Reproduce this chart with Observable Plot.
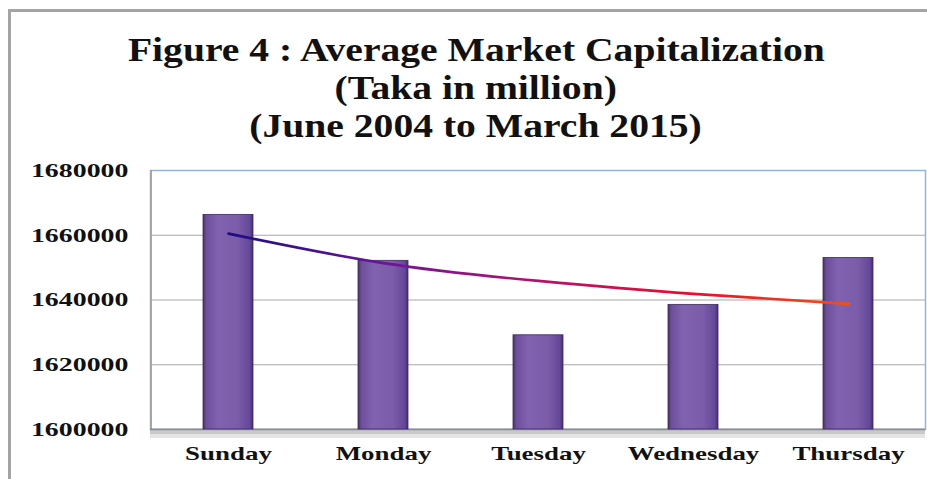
<!DOCTYPE html>
<html>
<head>
<meta charset="utf-8">
<script src="https://cdn.jsdelivr.net/npm/d3@7"></script>
<script src="https://cdn.jsdelivr.net/npm/@observablehq/plot@0.6"></script>
<style>
  html, body { margin: 0; padding: 0; background: #fff; }
  body { width: 927px; height: 479px; overflow: hidden; position: relative;
         font-family: "Liberation Serif", "Times New Roman", serif; }
  #border { position: absolute; left: 8px; top: 9px; width: 940px; height: 490px;
            border-left: 3px solid #a4a4a4; border-top: 3px solid #a4a4a4; }
  #title { position: absolute; left: 0; top: 31px; width: 952px; text-align: center;
           font-weight: bold; font-size: 33px; line-height: 38px; color: #111; }
  #title span { display: inline-block; white-space: nowrap; transform-origin: 50% 50%; }
  #chart { position: absolute; left: 0; top: 150px; }
</style>
</head>
<body>
<div id="border"></div>
<div id="title"></div>
<div id="chart"></div>
<script>
// ---- data ----
const days = ["Sunday", "Monday", "Tuesday", "Wednesday", "Thursday"];
const capitalization = [1666300, 1652100, 1629100, 1638500, 1653000];
const trendValues = [1660500, 1651400, 1645900, 1641900, 1638800];
const yTicks = [1600000, 1620000, 1640000, 1660000, 1680000];
const yDomain = [1600000, 1680000];
const titleLines = [
  "Figure 4 : Average Market Capitalization",
  "(Taka in million)",
  "(June 2004 to March 2015)"
];

const bars = days.map((d, i) => ({day: d, value: capitalization[i]}));
const trend = days.map((d, i) => ({day: d, value: trendValues[i]}));

// ---- title ----
const titleEl = document.getElementById("title");
titleLines.forEach(line => {
  const div = document.createElement("div");
  const span = document.createElement("span");
  span.textContent = line;
  span.style.transform = "scaleX(1.2)";
  div.appendChild(span);
  titleEl.appendChild(div);
});

// ---- chart ----
const chart = Plot.plot({
  width: 927,
  height: 329,
  marginTop: 20,
  marginBottom: 50,
  marginLeft: 150,
  marginRight: 2,
  style: {
    fontFamily: '"Liberation Serif", "Times New Roman", serif',
    fontSize: "19.5px",
    fontWeight: "bold",
    color: "#111",
    background: "transparent",
    overflow: "visible"
  },
  x: {domain: days, paddingInner: 0.68, paddingOuter: 0.34, label: null, tickSize: 0, tickPadding: 17},
  y: {domain: yDomain, ticks: yTicks, tickFormat: d3.format("d"), label: null, tickSize: 0, tickPadding: 22},
  marks: [
    Plot.ruleY([yDomain[0]], {stroke: "#e4e4e4", strokeWidth: 5, dy: 6}),
    Plot.ruleY([yDomain[0]], {stroke: "#c9c9c9", strokeWidth: 3, dy: 3}),
    Plot.ruleY(yTicks, {stroke: "#a8a8a8", strokeWidth: 1.2}),
    Plot.frame({stroke: "#95b3d7", strokeWidth: 1.5}),
    Plot.ruleX([days[0]], {stroke: "#a6a6a6", strokeWidth: 2, dx: -77.5, y1: yDomain[0], y2: yDomain[1]}),
    Plot.ruleY([yDomain[0]], {stroke: "#8c8c8c", strokeWidth: 2}),
    Plot.barY(bars, {x: "day", y1: () => yDomain[0], y2: "value", fill: "url(#barGrad)", stroke: "#3e2a5e", strokeWidth: 0.8}),
    Plot.tickY(bars, {x: "day", y: "value", stroke: "url(#bevelGrad)", strokeWidth: 7, dy: 4.5, inset: 3}),
    Plot.line(trend, {x: "day", y: "value", curve: "natural", stroke: "url(#trendGrad)", strokeWidth: 2.6})
  ]
});

// gradients
const svg = d3.select(chart);
const defs = svg.insert("defs", ":first-child");
function grad(id, stops, vertical) {
  const g = defs.append("linearGradient").attr("id", id)
    .attr("x1", 0).attr("y1", 0).attr("x2", vertical ? 0 : 1).attr("y2", vertical ? 1 : 0);
  stops.forEach(([o, c]) => g.append("stop").attr("offset", o).attr("stop-color", c));
}
grad("barGrad", [[0, "#4a3170"], [0.07, "#6e4f9c"], [0.3, "#8062b0"], [0.7, "#7a5ca9"], [0.93, "#66489a"], [1, "#45306a"]]);
grad("bevelGrad", [[0, "#8d70bd"], [0.2, "#b9a3e0"], [0.8, "#b9a3e0"], [1, "#8d70bd"]]);
grad("trendGrad", [[0, "#1d0c82"], [0.25, "#6a1696"], [0.5, "#b8106c"], [0.75, "#e4102c"], [1, "#f25212"]]);

document.getElementById("chart").appendChild(chart);

// widen the bold serif labels like the original
function stretch(sel, k) {
  chart.querySelectorAll(sel).forEach(t => {
    const w = t.getComputedTextLength();
    t.setAttribute("textLength", (w * k).toFixed(1));
    t.setAttribute("lengthAdjust", "spacingAndGlyphs");
  });
}
stretch('g[aria-label="y-axis tick label"] text', 1.43);
stretch('g[aria-label="x-axis tick label"] text', 1.38);
</script>
</body>
</html>
